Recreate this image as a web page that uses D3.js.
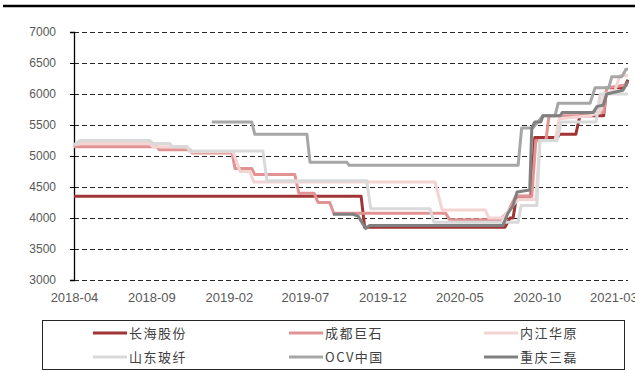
<!DOCTYPE html>
<html>
<head>
<meta charset="utf-8">
<script src="https://cdn.jsdelivr.net/npm/d3@7"></script>
<style>
  body { margin: 0; background: #fff; }
  svg { display: block; }
  .tick text { font-family: "Liberation Sans", Arial, sans-serif; fill: #595959; }
</style>
</head>
<body>
<script>
// price series (yuan/ton), step changes
var seriesNames = ["长海股份", "成都巨石", "内江华原", "山东玻纤", "OCV中国", "重庆三磊"];

var changhai = [
  ["2018-04-01", 4350], ["2019-10-20", 4350], ["2019-10-27", 3850], ["2020-07-30", 3850],
  ["2020-08-09", 4000], ["2020-08-15", 4000], ["2020-08-22", 4350], ["2020-09-19", 4350],
  ["2020-09-27", 5300], ["2020-11-11", 5300], ["2020-11-15", 5350], ["2020-12-17", 5350],
  ["2020-12-25", 5650], ["2021-02-10", 5650], ["2021-02-16", 6100], ["2021-03-22", 6100],
  ["2021-03-30", 6230]
];
var chengdu = [
  ["2018-04-01", 5150], ["2018-09-12", 5150], ["2018-09-16", 5100], ["2018-11-16", 5100],
  ["2018-11-20", 5050], ["2019-02-07", 5050], ["2019-02-13", 4800], ["2019-03-18", 4800],
  ["2019-03-24", 4700], ["2019-06-11", 4700], ["2019-06-19", 4400], ["2019-07-19", 4400],
  ["2019-07-27", 4250], ["2019-08-19", 4250], ["2019-08-27", 4075], ["2020-04-04", 4075],
  ["2020-04-12", 3970], ["2020-07-20", 3970], ["2020-08-05", 4100], ["2020-08-20", 4350],
  ["2020-09-21", 4350], ["2020-09-29", 5250], ["2020-10-19", 5250], ["2020-10-25", 5650],
  ["2021-01-14", 5650], ["2021-01-22", 5700], ["2021-02-10", 5700], ["2021-02-16", 6100],
  ["2021-03-30", 6150]
];
var neijiang = [
  ["2018-04-01", 5180], ["2018-04-13", 5200], ["2018-08-29", 5200], ["2018-09-04", 5150],
  ["2018-11-10", 5150], ["2018-11-16", 5070], ["2019-02-09", 5070], ["2019-02-23", 4750],
  ["2019-03-14", 4750], ["2019-03-22", 4580], ["2020-03-14", 4580], ["2020-03-28", 4130],
  ["2020-06-21", 4130], ["2020-06-28", 4000], ["2020-07-26", 4000], ["2020-08-09", 4150],
  ["2020-08-25", 4300], ["2020-09-29", 4300], ["2020-10-07", 5250], ["2020-11-06", 5250],
  ["2020-11-14", 5600], ["2021-01-14", 5650], ["2021-02-02", 5700], ["2021-02-10", 6000],
  ["2021-03-04", 6050], ["2021-03-14", 6300], ["2021-03-30", 6300]
];
var shandong = [
  ["2018-04-01", 5180], ["2018-04-13", 5250], ["2018-08-29", 5250], ["2018-09-04", 5200],
  ["2018-10-07", 5200], ["2018-10-13", 5150], ["2018-11-10", 5150], ["2018-11-16", 5080],
  ["2019-04-09", 5080], ["2019-04-17", 4600], ["2019-10-31", 4600], ["2019-11-08", 4150],
  ["2020-03-04", 4150], ["2020-03-12", 3930], ["2020-08-25", 3930], ["2020-08-31", 4200],
  ["2020-10-01", 4200], ["2020-10-07", 5250], ["2020-11-10", 5250], ["2020-11-18", 5550],
  ["2021-01-26", 5550], ["2021-02-03", 6000], ["2021-03-30", 6000]
];
var ocv = [
  ["2018-12-29", 5550], ["2019-03-18", 5550], ["2019-03-24", 5350], ["2019-07-05", 5350],
  ["2019-07-11", 4900], ["2019-09-22", 4900], ["2019-09-26", 4850], ["2020-08-25", 4850],
  ["2020-09-01", 5450], ["2020-09-23", 5450], ["2020-10-13", 5650], ["2020-11-06", 5650],
  ["2020-11-12", 5850], ["2021-01-14", 5850], ["2021-01-24", 6100], ["2021-02-20", 6100],
  ["2021-02-26", 6280], ["2021-03-18", 6280], ["2021-03-26", 6400], ["2021-03-30", 6400]
];
var chongqing = [
  ["2019-08-25", 4060], ["2019-10-04", 4060], ["2019-10-14", 4030], ["2019-10-29", 3830],
  ["2019-11-06", 3880], ["2020-07-26", 3880], ["2020-08-05", 4080], ["2020-08-15", 4200],
  ["2020-08-23", 4420], ["2020-09-17", 4450], ["2020-09-21", 5450], ["2020-09-27", 5550],
  ["2020-10-09", 5550], ["2020-10-13", 5650], ["2020-11-16", 5650], ["2020-11-20", 5700],
  ["2021-01-20", 5700], ["2021-01-28", 5800], ["2021-02-09", 5820], ["2021-02-16", 6000],
  ["2021-03-20", 6060], ["2021-03-30", 6200]
];

var xTickLabels = ["2018-04", "2018-09", "2019-02", "2019-07", "2019-12", "2020-05", "2020-10", "2021-03"];
var yTicks = [3000, 3500, 4000, 4500, 5000, 5500, 6000, 6500, 7000];

var colors = ["#a13434", "#e19393", "#f4d3d3", "#d9d9d9", "#a6a6a6", "#808080"];

var W = 635, H = 371;
var plotLeft = 74, plotRight = 628, plotTop = 32, plotBottom = 280;

var parseDay = d3.utcParse("%Y-%m-%d");
var parseMonth = d3.utcParse("%Y-%m");

var allSeries = [changhai, chengdu, neijiang, shandong, ocv, chongqing].map(function (s) {
  return s.map(function (d) { return { date: parseDay(d[0]), value: d[1] }; });
});

var svg = d3.select("body").append("svg")
  .attr("width", W)
  .attr("height", H);

// heavy rule across the top of the page
svg.append("line")
  .attr("x1", 3).attr("x2", W)
  .attr("y1", 6).attr("y2", 6)
  .attr("stroke", "#000")
  .attr("stroke-width", 2.6);

var x = d3.scaleUtc()
  .domain([parseDay("2018-04-01"), parseDay("2021-03-30")])
  .range([plotLeft, plotRight]);

var y = d3.scaleLinear()
  .domain([3000, 7000])
  .range([plotBottom, plotTop]);

// dashed grid
svg.append("g")
  .selectAll("line")
  .data(yTicks)
  .enter().append("line")
  .attr("x1", plotLeft).attr("x2", plotRight)
  .attr("y1", function (d) { return Math.round(y(d)) + 0.5; })
  .attr("y2", function (d) { return Math.round(y(d)) + 0.5; })
  .attr("stroke", "#262626")
  .attr("stroke-width", 1.1)
  .attr("stroke-dasharray", "5,3");

// y axis
var yAxis = svg.append("g")
  .attr("transform", "translate(" + plotLeft + ",0)")
  .call(d3.axisLeft(y).tickValues(yTicks).tickSize(4).tickPadding(14).tickFormat(d3.format("d")));
yAxis.select(".domain").attr("stroke", "#000").attr("stroke-width", 1.3);
yAxis.selectAll(".tick line").attr("stroke", "#000");
yAxis.selectAll("text").style("font-size", "12px");

// x axis labels only
var xAxis = svg.append("g")
  .attr("transform", "translate(0," + plotBottom + ")")
  .call(d3.axisBottom(x)
    .tickValues(xTickLabels.map(function (t) { return parseMonth(t); }))
    .tickSize(0).tickPadding(13)
    .tickFormat(d3.utcFormat("%Y-%m")));
xAxis.select(".domain").remove();
xAxis.selectAll("text").style("font-size", "13px");

var line = d3.line()
  .x(function (d) { return x(d.date); })
  .y(function (d) { return y(d.value); });

svg.append("g")
  .selectAll("path")
  .data(allSeries)
  .enter().append("path")
  .attr("d", line)
  .attr("fill", "none")
  .attr("stroke", function (d, i) { return colors[i]; })
  .attr("stroke-width", 3)
  .attr("stroke-linejoin", "round");

// legend
svg.append("rect")
  .attr("x", 42.5).attr("y", 320.5)
  .attr("width", 582).attr("height", 49)
  .attr("fill", "none")
  .attr("stroke", "#262626")
  .attr("stroke-width", 1);

var colX = [93, 289, 484];
var rowY = [333, 357];

var legend = svg.append("g")
  .selectAll("g")
  .data(seriesNames)
  .enter().append("g")
  .attr("transform", function (d, i) {
    return "translate(" + colX[i % 3] + "," + rowY[Math.floor(i / 3)] + ")";
  });

legend.append("line")
  .attr("x1", 0).attr("x2", 34)
  .attr("y1", 0).attr("y2", 0)
  .attr("stroke", function (d, i) { return colors[i]; })
  .attr("stroke-width", 3);

legend.append("text")
  .attr("x", 36)
  .attr("y", 0)
  .attr("dy", "0.35em")
  .style("font-family", "'Noto Sans CJK SC', sans-serif")
  .style("font-size", "13px")
  .style("letter-spacing", "1.5px")
  .style("fill", "#404040")
  .text(function (d) { return d; });
</script>
</body>
</html>
